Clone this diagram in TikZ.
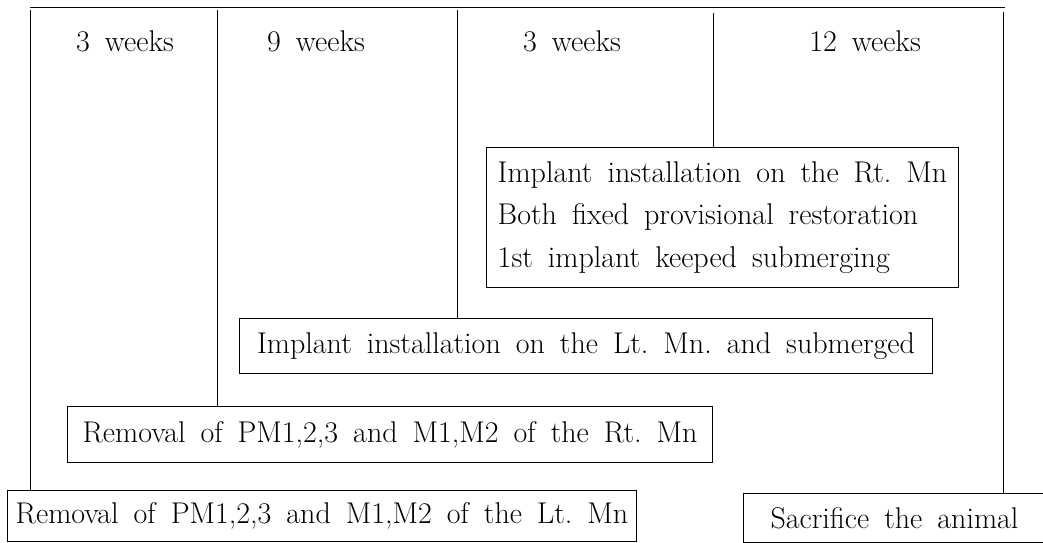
\documentclass[tikz,border=0pt]{standalone}
\usepackage{tikz}

\newcommand{\stagefont}{\fontsize{30}{42.5}\selectfont}

\begin{document}
\begin{tikzpicture}[x=1pt, y=-1pt, line width=1pt,
        every node/.style={font=\stagefont,
            execute at begin node={\spaceskip=0.5em\xspaceskip=0.5em\relax}},
        stagebox/.style={draw, anchor=north west, inner xsep=0pt, inner ysep=0pt}]
            \useasboundingbox (0,0) rectangle (1043,542);

            % time line
            \coordinate (topL) at (30,7);
            \coordinate (topR) at (1005,7);
            \draw (topL) -- (topR);

            \coordinate (t1) at (30,10);
            \coordinate (t2) at (217,10);
            \coordinate (t3) at (457,10);
            \coordinate (t4) at (713,13);
            \coordinate (t5) at (1003,12);

            \foreach \x/\n [count=\i] in {125/3, 316/9, 572/3, 865/12}
                {\node[anchor=base] (wk\i) at (\x,51) {\n\ weeks};}

            % stages
            \node[stagebox, minimum width=472pt, minimum height=140pt, align=left] (impRt) at (486,147)
                {Implant installation on the Rt. Mn\\
                 Both fixed provisional restoration\\
                 1st implant keeped submerging};
            \node[stagebox, minimum width=693pt, minimum height=55pt] (impLt) at (239,318)
                {Implant installation on the Lt. Mn. and submerged};
            \node[stagebox, minimum width=645pt, minimum height=56pt] (remRt) at (67,406)
                {Removal of PM1,2,3 and M1,M2 of the Rt. Mn};
            \node[stagebox, minimum width=629pt, minimum height=51pt] (remLt) at (7,490)
                {Removal of PM1,2,3 and M1,M2 of the Lt. Mn};
            \node[stagebox, minimum width=302pt, minimum height=49pt] (sacr) at (743,493)
                {Sacrifice the animal};

            \foreach \t/\b in {t1/remLt, t2/remRt, t3/impLt, t4/impRt, t5/sacr}
                {\draw (\t) -- (\t |- \b.north);}
        \end{tikzpicture}
\end{document}
